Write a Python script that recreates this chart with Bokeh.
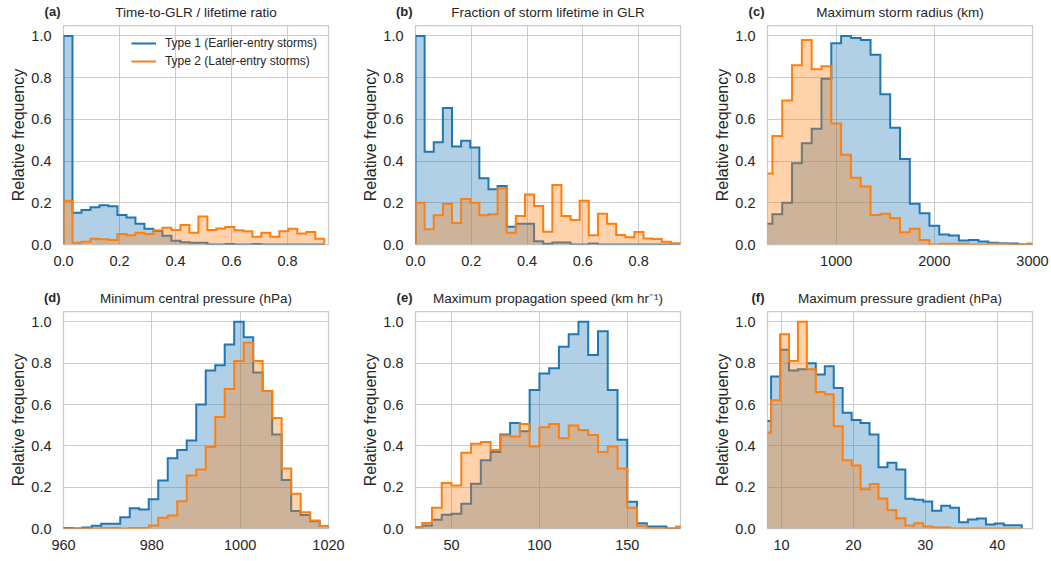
import numpy as np
from bokeh.plotting import figure
from bokeh.layouts import column, row
from bokeh.models import (Range1d, FixedTicker, Legend, LegendItem,
                          NumeralTickFormatter)
from bokeh.core.properties import value
from bokeh.embed import file_html
from bokeh.resources import INLINE

FONT = "Liberation Sans"
TXT = "#262626"
BLUE = "#1f77b4"
ORANGE = "#ff7f0e"
GRID = "#cccccc"

series_labels = ["Type 1 (Earlier-entry storms)", "Type 2 (Later-entry storms)"]
y_ticks = [0.0, 0.2, 0.4, 0.6, 0.8, 1.0]
y_label = "Relative frequency"

# ---- (a) Time-to-GLR / lifetime ratio
a_title = "Time-to-GLR / lifetime ratio"
a_bin_start, a_bin_width = 0.0, 0.0321
a_xlim = [0.0, 0.946]
a_xticks = [0.0, 0.2, 0.4, 0.6, 0.8]
a_type1 = [1.0, 0.152, 0.165, 0.178, 0.188, 0.183, 0.142, 0.129, 0.100, 0.075,
           0.065, 0.042, 0.018, 0.011, 0.008, 0.008, 0.0, 0.0, 0.002, 0.0,
           0.0, 0.002, 0.0, 0.0, 0.0, 0.0, 0.0, 0.0, 0.0]
a_type2 = [0.21, 0.008, 0.013, 0.027, 0.025, 0.022, 0.05, 0.044, 0.056, 0.05,
           0.068, 0.08, 0.07, 0.093, 0.056, 0.134, 0.07, 0.077, 0.084, 0.068,
           0.064, 0.037, 0.056, 0.037, 0.064, 0.076, 0.053, 0.06, 0.027]

# ---- (b) Fraction of storm lifetime in GLR
b_title = "Fraction of storm lifetime in GLR"
b_bin_start, b_bin_width = 0.0, 0.0327
b_xlim = [0.0, 0.95]
b_xticks = [0.0, 0.2, 0.4, 0.6, 0.8]
b_type1 = [1.0, 0.445, 0.49, 0.655, 0.47, 0.497, 0.465, 0.318, 0.265, 0.28,
           0.085, 0.10, 0.10, 0.016, 0.003, 0.01, 0.01, 0.0, 0.0, 0.005,
           0.0, 0.0, 0.0, 0.0, 0.0, 0.0, 0.0, 0.0, 0.0]
b_type2 = [0.20, 0.073, 0.14, 0.194, 0.103, 0.218, 0.20, 0.14, 0.145, 0.27,
           0.056, 0.137, 0.24, 0.185, 0.061, 0.285, 0.137, 0.118, 0.21, 0.044,
           0.148, 0.10, 0.045, 0.035, 0.06, 0.029, 0.026, 0.013, 0.006]

# ---- (c) Maximum storm radius (km)
c_title = "Maximum storm radius (km)"
c_bin_start, c_bin_width = 250.0, 100.0
c_xlim = [300, 3000]
c_xticks = [1000, 2000, 3000]
c_type1 = [0.10, 0.145, 0.20, 0.39, 0.485, 0.555, 0.795, 0.965, 1.0, 0.99,
           0.98, 0.91, 0.72, 0.56, 0.41, 0.195, 0.15, 0.09, 0.048, 0.043,
           0.019, 0.022, 0.014, 0.008, 0.006, 0.005, 0.0, 0.0]
c_type2 = [0.34, 0.52, 0.69, 0.86, 0.98, 0.84, 0.855, 0.58, 0.43, 0.32,
           0.278, 0.142, 0.147, 0.126, 0.059, 0.075, 0.022, 0.0, 0.003, 0.003,
           0.003, 0.0, 0.0, 0.003, 0.003, 0.0, 0.0, 0.005]

# ---- (d) Minimum central pressure (hPa)
d_title = "Minimum central pressure (hPa)"
d_bin_start, d_bin_width = 957.8, 2.15
d_xlim = [960, 1020]
d_xticks = [960, 980, 1000, 1020]
d_type1 = [0.003, 0.003, 0.0, 0.005, 0.013, 0.023, 0.023, 0.055, 0.098, 0.092,
           0.142, 0.232, 0.34, 0.38, 0.426, 0.60, 0.765, 0.79, 0.89, 1.0,
           0.925, 0.755, 0.665, 0.455, 0.235, 0.085, 0.065, 0.035, 0.012]
d_type2 = [0.0, 0.0, 0.0, 0.0, 0.0, 0.002, 0.002, 0.0, 0.003, 0.003,
           0.015, 0.052, 0.063, 0.132, 0.256, 0.285, 0.394, 0.54, 0.675, 0.81,
           0.9, 0.81, 0.665, 0.535, 0.29, 0.168, 0.079, 0.039, 0.012]

# ---- (e) Maximum propagation speed (km hr^-1)
e_title = "Maximum propagation speed (km hr\u207b\u00b9)"
e_bin_start, e_bin_width = 27.78, 5.556
e_xlim = [29.5, 180.3]
e_xticks = [50, 100, 150]
e_type1 = [0.006, 0.015, 0.042, 0.066, 0.071, 0.12, 0.216, 0.33, 0.37, 0.455,
           0.51, 0.47, 0.67, 0.75, 0.775, 0.88, 0.94, 1.0, 0.84, 0.955,
           0.67, 0.43, 0.13, 0.026, 0.01, 0.01, 0.0, 0.0]
e_type2 = [0.006, 0.027, 0.10, 0.22, 0.208, 0.366, 0.41, 0.418, 0.38, 0.45,
           0.445, 0.506, 0.397, 0.49, 0.506, 0.437, 0.498, 0.477, 0.453, 0.37,
           0.397, 0.29, 0.10, 0.013, 0.0, 0.0, 0.0, 0.01]

# ---- (f) Maximum pressure gradient (hPa)
f_title = "Maximum pressure gradient (hPa)"
f_bin_start, f_bin_width = 7.3, 1.245
f_xlim = [8.05, 44.9]
f_xticks = [10, 20, 30, 40]
f_type1 = [0.52, 0.735, 0.865, 0.765, 0.77, 0.80, 0.745, 0.785, 0.68, 0.56,
           0.525, 0.51, 0.455, 0.296, 0.318, 0.286, 0.144, 0.139, 0.131, 0.086,
           0.11, 0.10, 0.03, 0.043, 0.048, 0.019, 0.024, 0.016, 0.016]
f_type2 = [0.465, 0.62, 0.94, 0.81, 1.0, 0.77, 0.66, 0.65, 0.495, 0.33,
           0.305, 0.19, 0.215, 0.145, 0.09, 0.05, 0.015, 0.025, 0.01, 0.005,
           0.005, 0.0, 0.0, 0.0, 0.0, 0.0, 0.0, 0.0, 0.0]

Y_TOP = 1.05
HEAD = 24                  # header strip holding the panel letters and titles
BL = 63                    # left border (axis area) of every panel
COL_W = [352, 352, 347]    # figure widths of the three columns
COL_BR = [24, 24, 19]      # right borders of the three columns
PAGE_W = sum(COL_W)
TITLE_BASE = 12.5          # text baselines inside the header strip
LETTER_BASE = 13.5


def step_xy(edges, vals):
    xs = np.repeat(edges, 2)
    ys = np.concatenate([[0.0], np.repeat(np.asarray(vals, float), 2), [0.0]])
    return xs, ys


def header(letters, titles):
    """Full-width strip above a row of panels: bold letters + centred titles."""
    h = figure(width=PAGE_W, height=HEAD, min_border=0, x_range=Range1d(0, PAGE_W),
               y_range=Range1d(0, HEAD), x_axis_type=None, y_axis_type=None,
               output_backend="svg", toolbar_location=None, tools="")
    h.grid.visible = False
    h.outline_line_color = None
    h.background_fill_color = "white"
    h.border_fill_color = "white"
    lefts = np.concatenate([[0], np.cumsum(COL_W)[:-1]])
    frame_l = lefts + BL
    frame_c = frame_l + (np.array(COL_W) - BL - np.array(COL_BR)) / 2
    h.text(x=frame_l - 3, y=[LETTER_BASE] * 3, text=letters, text_font=value(FONT),
           text_font_size="13px", text_font_style="bold", text_align="right",
           text_baseline="alphabetic", text_color=TXT)
    h.text(x=frame_c, y=[TITLE_BASE] * 3, text=titles, text_font=value(FONT),
           text_font_size="13.5px", text_align="center",
           text_baseline="alphabetic", text_color=TXT)
    return h


def panel(start, width, t1, t2, xlim, xticks, xfmt, w, h, br, bb, legend=False):
    edges = start + width * np.arange(len(t1) + 1)
    p = figure(width=w, height=h, min_border_left=BL, min_border_right=br,
               min_border_top=1, min_border_bottom=bb,
               x_range=Range1d(xlim[0], xlim[1]), y_range=Range1d(0, Y_TOP),
               output_backend="svg", toolbar_location=None, tools="")
    p.background_fill_color = "white"
    p.border_fill_color = "white"
    p.outline_line_color = GRID
    p.outline_line_width = 1.25

    renderers = []
    for vals, col in ((t1, BLUE), (t2, ORANGE)):
        xs, ys = step_xy(edges, vals)
        p.varea(x=xs, y1=np.zeros_like(ys), y2=ys, fill_color=col, fill_alpha=0.35)
        r = p.line(x=xs, y=ys, line_color=col, line_width=2, line_join="miter")
        renderers.append(r)

    for ax in (p.xaxis[0], p.yaxis[0]):
        ax.axis_line_color = None
        ax.major_tick_line_color = None
        ax.minor_tick_line_color = None
        ax.major_tick_out = 0
        ax.major_tick_in = 0
        ax.minor_tick_out = 0
        ax.minor_tick_in = 0
        ax.major_label_text_font = FONT
        ax.major_label_text_font_size = "14.5px"
        ax.major_label_text_color = TXT
    p.xaxis.ticker = FixedTicker(ticks=xticks)
    p.xaxis.formatter = NumeralTickFormatter(format=xfmt)
    p.xaxis.major_label_standoff = 11
    p.yaxis.ticker = FixedTicker(ticks=y_ticks)
    p.yaxis.formatter = NumeralTickFormatter(format="0.0")
    p.yaxis.major_label_standoff = 12
    p.yaxis.axis_label = y_label
    p.yaxis.axis_label_text_font = FONT
    p.yaxis.axis_label_text_font_size = "16px"
    p.yaxis.axis_label_text_font_style = "normal"
    p.yaxis.axis_label_text_color = TXT
    p.yaxis.axis_label_standoff = 1

    p.xgrid.ticker = FixedTicker(ticks=xticks)
    p.ygrid.ticker = FixedTicker(ticks=y_ticks)
    for g in (p.xgrid[0], p.ygrid[0]):
        g.grid_line_color = GRID
        g.grid_line_width = 1

    if legend:
        lg = Legend(items=[LegendItem(label=series_labels[0], renderers=[renderers[0]]),
                           LegendItem(label=series_labels[1], renderers=[renderers[1]])],
                    location="top_right")
        lg.label_text_font = FONT
        lg.label_text_font_size = "12px"
        lg.label_text_color = TXT
        lg.glyph_width = 25
        lg.glyph_height = 14
        lg.label_height = 14
        lg.label_standoff = 9
        lg.spacing = 4
        lg.padding = 6
        lg.margin = 11
        lg.border_line_color = None
        lg.background_fill_alpha = 0
        p.add_layout(lg)
    return p


H1, H2 = 286 - HEAD, 275 - HEAD
row1 = row(
    panel(a_bin_start, a_bin_width, a_type1, a_type2, a_xlim, a_xticks, "0.0",
          COL_W[0], H1, COL_BR[0], 42, legend=True),
    panel(b_bin_start, b_bin_width, b_type1, b_type2, b_xlim, b_xticks, "0.0",
          COL_W[1], H1, COL_BR[1], 42),
    panel(c_bin_start, c_bin_width, c_type1, c_type2, c_xlim, c_xticks, "0",
          COL_W[2], H1, COL_BR[2], 42),
)
row2 = row(
    panel(d_bin_start, d_bin_width, d_type1, d_type2, d_xlim, d_xticks, "0",
          COL_W[0], H2, COL_BR[0], 33),
    panel(e_bin_start, e_bin_width, e_type1, e_type2, e_xlim, e_xticks, "0",
          COL_W[1], H2, COL_BR[1], 33),
    panel(f_bin_start, f_bin_width, f_type1, f_type2, f_xlim, f_xticks, "0",
          COL_W[2], H2, COL_BR[2], 33),
)
head1 = header(["(a)", "(b)", "(c)"], [a_title, b_title, c_title])
head2 = header(["(d)", "(e)", "(f)"], [d_title, e_title, f_title])

layout = column(head1, row1, head2, row2)
open("out.html", "w").write(file_html(layout, INLINE))
